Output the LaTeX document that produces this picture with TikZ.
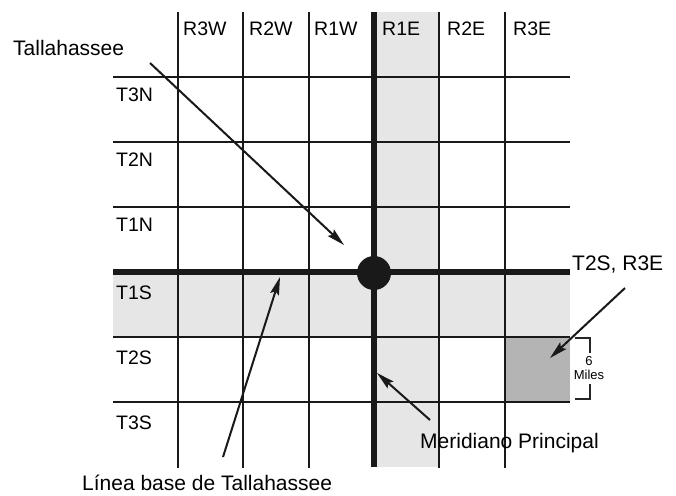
\documentclass[tikz,border=0pt]{standalone}
\usepackage{fontspec}
\setmainfont{Liberation Sans}
\usetikzlibrary{arrows.meta}
\definecolor{bandgray}{HTML}{E6E6E6}
\definecolor{cellgray}{HTML}{B4B4B4}
\begin{document}
\begin{tikzpicture}[x=1pt,y=-1pt,
  gridline/.style={line width=1.9pt, black!90},
  axisline/.style={line width=5.5pt, black!90},
  gridlbl/.style={anchor=base west, inner sep=0pt, font=\fontsize{19.5}{22}\selectfont},
  callout/.style={anchor=base west, inner sep=0pt, font=\fontsize{21}{24}\selectfont},
  pointer/.style={line width=2pt, black!90, -{Stealth[length=18pt,width=9pt,inset=3pt]}},
  bracketline/.style={line width=1.4pt, black!85}
]
\useasboundingbox (0,0) rectangle (676,495);

% shaded range, township row and the highlighted section
\fill[bandgray] (374,12) rectangle (439,467);
\fill[bandgray] (113,272) rectangle (570,337);
\fill[cellgray] (505,337) rectangle (570,402);

% survey grid
\foreach \x in {178,243,309,439,505}
  \draw[gridline] (\x,12) -- (\x,468);
\foreach \y in {77,142,207,337,402}
  \draw[gridline] (113,\y) -- (570,\y);

% principal meridian and base line
\draw[axisline] (374,12) -- (374,467);
\draw[axisline] (113,272) -- (570,272);
\node[circle, fill=black!90, minimum size=34pt, inner sep=0pt] (origin) at (374,273) {};

% range labels
\node[gridlbl] (r3w) at (183,36) {R3W};
\node[gridlbl] (r2w) at (249,36) {R2W};
\node[gridlbl] (r1w) at (314,36) {R1W};
\node[gridlbl] (r1e) at (382,36) {R1E};
\node[gridlbl] (r2e) at (447,36) {R2E};
\node[gridlbl] (r3e) at (513,36) {R3E};

% township labels
\node[gridlbl] (t3n) at (116,101) {T3N};
\node[gridlbl] (t2n) at (116,166) {T2N};
\node[gridlbl] (t1n) at (116,231) {T1N};
\node[gridlbl] (t1s) at (116,299) {T1S};
\node[gridlbl] (t2s) at (116,364) {T2S};
\node[gridlbl] (t3s) at (116,429) {T3S};

% callout texts
\node[callout] (city) at (13,56) {Tallahassee};
\node[callout] (cellname) at (572,270) {T2S, R3E};
\node[callout] (meridian) at (420,448) {Meridiano Principal};
\node[callout] (baseline) at (82,490) {Línea base de Tallahassee};

% pointer ends
\coordinate (cityfrom) at (150,63);
\coordinate (cityto) at (344,245);
\coordinate (cellfrom) at (625,288);
\coordinate (cellto) at (550,358);
\coordinate (meridfrom) at (430,420);
\coordinate (meridto) at (377,373);
\coordinate (basefrom) at (223,457);
\coordinate (baseto) at (280,277);

\draw[pointer] (cityfrom) -- (cityto);
\draw[pointer] (cellfrom) -- (cellto);
\draw[pointer] (meridfrom) -- (meridto);
\draw[pointer] (basefrom) -- (baseto);

% six-mile dimension bracket
\draw[bracketline] (575,338) -- (590,338) -- (590,353);
\draw[bracketline] (590,384) -- (590,399) -- (575,399);
\node[align=center, inner sep=0pt, font=\fontsize{13}{14}\selectfont] (miles) at (589,368) {6\\Miles};
\end{tikzpicture}
\end{document}
